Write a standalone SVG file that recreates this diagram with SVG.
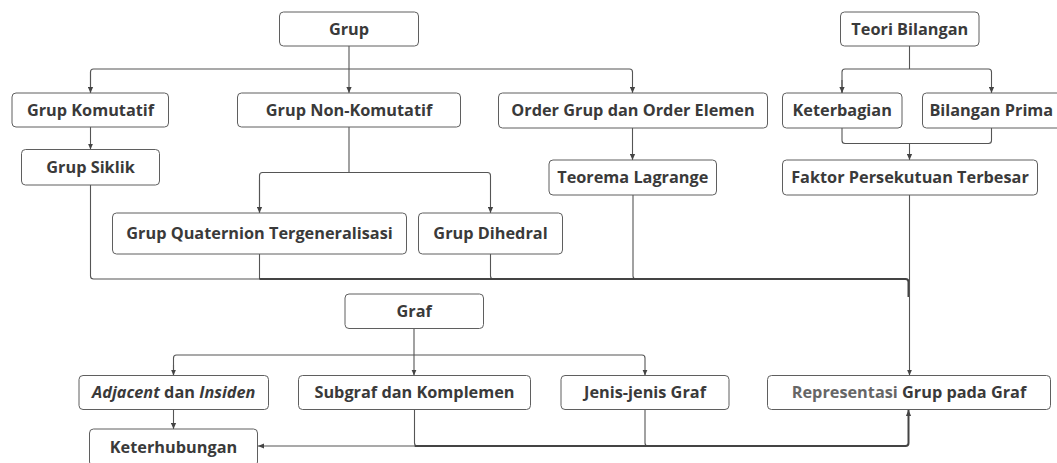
<svg xmlns="http://www.w3.org/2000/svg" width="1057" height="463" viewBox="0 0 1057 463">
<defs>
<style>
.box{fill:#fff;stroke:#5f5f5f;stroke-width:1}
.t{font-family:"Open Sans","Noto Sans","Liberation Sans",sans-serif;font-size:16.3px;font-weight:700;fill:#3a3a3a;text-anchor:middle}
.lt{fill:#666}
.c{fill:none;stroke:#555;stroke-width:1.1}
.bus{fill:none;stroke:#444;stroke-width:2}
</style>
<marker id="ah" viewBox="0 0 6 6" refX="6" refY="3" markerWidth="6" markerHeight="6" markerUnits="userSpaceOnUse" orient="auto">
<path d="M0 0.4 L6 3 L0 5.6 z" fill="#444"/>
</marker>
</defs>
<rect width="1057" height="463" fill="#fff"/>

<g id="connectors">
<path class="c" d="M349 46 V93" marker-end="url(#ah)"/>
<path class="c" d="M90.5 93 V72 Q90.5 69 93.5 69 H629.5 Q632.5 69 632.5 72 V93" marker-end="url(#ah)"/>
<path class="c" d="M90.5 72 V93" marker-end="url(#ah)"/>
<path class="c" d="M90.5 127 V149.5" marker-end="url(#ah)"/>
<path class="c" d="M349 127 V172.5"/>
<path class="c" d="M259.5 213 V175.5 Q259.5 172.5 262.5 172.5 H487.5 Q490.5 172.5 490.5 175.5 V213" marker-end="url(#ah)"/>
<path class="c" d="M259.5 180 V213" marker-end="url(#ah)"/>
<path class="c" d="M632.5 128 V160" marker-end="url(#ah)"/>
<path class="c" d="M909.5 46 V69"/>
<path class="c" d="M842 93 V72 Q842 69 845 69 H988.5 Q991.5 69 991.5 72 V93" marker-end="url(#ah)"/>
<path class="c" d="M842 80 V93" marker-end="url(#ah)"/>
<path class="c" d="M842 128 V140.5 Q842 143.5 845 143.5 H988.5 Q991.5 143.5 991.5 140.5 V128"/>
<path class="c" d="M909.5 143.5 V160" marker-end="url(#ah)"/>
<path class="c" d="M90.5 185 V276 Q90.5 279 93.5 279 H260"/>
<path class="c" d="M259.5 254 V279"/>
<path class="c" d="M490.5 254 V276 Q490.5 279 493.5 279"/>
<path class="c" d="M633 195 V276 Q633 279 636 279"/>
<path class="bus" d="M259.5 279 H905.5 Q908.5 279 908.5 282 V297"/>
<path class="c" d="M909.5 195 V375.5" marker-end="url(#ah)"/>
<path class="c" d="M414 328.5 V375.5" marker-end="url(#ah)"/>
<path class="c" d="M173.5 375.5 V358 Q173.5 355 176.5 355 H642 Q645 355 645 358 V375.5" marker-end="url(#ah)"/>
<path class="c" d="M173.5 365 V375.5" marker-end="url(#ah)"/>
<path class="c" d="M173.5 409.5 V429" marker-end="url(#ah)"/>
<path class="c" d="M414.5 409.5 V443 Q414.5 446 417.5 446"/>
<path class="c" d="M645 409.5 V443 Q645 446 648 446"/>
<path class="c" d="M414.5 446 H258" marker-end="url(#ah)"/>
<path class="bus" d="M414.5 446 H905.5 Q908.5 446 908.5 443 V410" marker-end="url(#ah)"/>
</g>

<g id="grup"><rect class="box" x="279.5" y="12" width="139" height="34" rx="4"/><text class="t" x="349" y="34.8">Grup</text></g>
<g id="grup-komutatif"><rect class="box" x="12" y="93" width="156.5" height="34" rx="4"/><text class="t" x="90.5" y="115.8">Grup Komutatif</text></g>
<g id="grup-non-komutatif"><rect class="box" x="237.5" y="93" width="223" height="34" rx="4"/><text class="t" x="349" y="115.8">Grup Non-Komutatif</text></g>
<g id="order"><rect class="box" x="498.5" y="93" width="269" height="35" rx="4"/><text class="t" x="633" y="116.3">Order Grup dan Order Elemen</text></g>
<g id="teori-bilangan"><rect class="box" x="840.5" y="12" width="138.5" height="34" rx="4"/><text class="t" x="909.8" y="34.8">Teori Bilangan</text></g>
<g id="keterbagian"><rect class="box" x="782.5" y="93" width="119.5" height="35" rx="4"/><text class="t" x="842.2" y="116.3">Keterbagian</text></g>
<g id="bilangan-prima"><rect class="box" x="922.5" y="93" width="140" height="35" rx="4"/><text class="t" x="991.3" y="116.3">Bilangan Prima</text></g>
<g id="grup-siklik"><rect class="box" x="21.5" y="149.5" width="138" height="35.5" rx="4"/><text class="t" x="90.5" y="173">Grup Siklik</text></g>
<g id="teorema-lagrange"><rect class="box" x="549" y="160" width="167.5" height="35" rx="4"/><text class="t" x="632.8" y="183.3">Teorema Lagrange</text></g>
<g id="fpb"><rect class="box" x="782.5" y="160" width="255" height="35" rx="4"/><text class="t" x="910" y="183.3">Faktor Persekutuan Terbesar</text></g>
<g id="quaternion"><rect class="box" x="112.5" y="213" width="294" height="41" rx="4"/><text class="t" x="259.5" y="239.3">Grup Quaternion Tergeneralisasi</text></g>
<g id="dihedral"><rect class="box" x="418.5" y="213" width="144" height="41" rx="4"/><text class="t" x="490.5" y="239.3">Grup Dihedral</text></g>
<g id="graf"><rect class="box" x="345" y="294" width="138.5" height="34.5" rx="4"/><text class="t" x="414.2" y="317">Graf</text></g>
<g id="adjacent"><rect class="box" x="79" y="375.5" width="189.5" height="34" rx="4"/><text class="t" x="173.7" y="398.3"><tspan font-style="italic">Adjacent</tspan> dan <tspan font-style="italic">Insiden</tspan></text></g>
<g id="subgraf"><rect class="box" x="298.5" y="375.5" width="232" height="34" rx="4"/><text class="t" x="414.5" y="398.3">Subgraf dan Komplemen</text></g>
<g id="jenis-graf"><rect class="box" x="561" y="375.5" width="168" height="34" rx="4"/><text class="t" x="645" y="398.3">Jenis-jenis Graf</text></g>
<g id="representasi"><rect class="box" x="767.5" y="375.5" width="283" height="34" rx="4"/><text class="t" x="909" y="398.3"><tspan class="lt">Representasi</tspan> Grup pada Graf</text></g>
<g id="keterhubungan"><rect class="box" x="89.5" y="429" width="168" height="37" rx="4"/><text class="t" x="173.5" y="452.5">Keterhubungan</text></g>
</svg>
